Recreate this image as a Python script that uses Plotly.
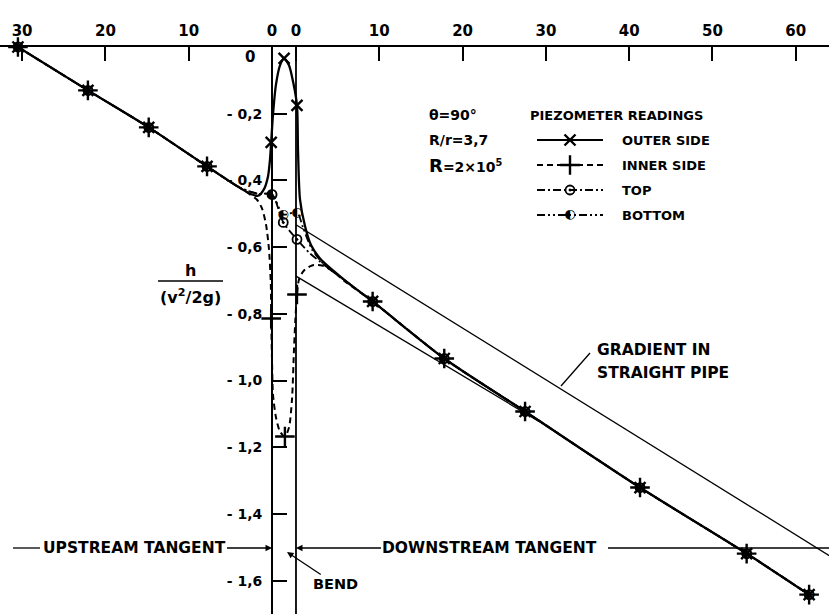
import plotly.graph_objects as go

FONT = "DejaVu Sans"
WEIGHT = "bold"

# ---------------- data ----------------
BEND_LENGTH = 2.88          # diameters between upstream-0 and downstream-0 sections

UPSTREAM_LU = [30.5, 22.1, 14.8, 7.8]
UPSTREAM_H = [0.000, -0.130, -0.241, -0.358]

DOWNSTREAM_LD = [9.2, 17.8, 27.5, 41.3, 54.1, 61.6]
DOWNSTREAM_H = [-0.763, -0.934, -1.093, -1.321, -1.519, -1.642]

# piezometer readings inside the bend (s = distance from bend entry, diameters)
OUTER_BEND_S = [-0.10, 1.45, 3.00]
OUTER_BEND_H = [-0.286, -0.034, -0.175]
INNER_BEND_S = [-0.10, 1.55, 3.00]
INNER_BEND_H = [-0.814, -1.168, -0.742]
TOP_BEND_S = [0.00, 1.35, 3.00]
TOP_BEND_H = [-0.442, -0.526, -0.577]
BOTTOM_BEND_S = [0.00, 1.35, 3.00]
BOTTOM_BEND_H = [-0.442, -0.502, -0.496]

# faired curves through the bend region (between last upstream and first downstream station)
OUTER_FAIR_S = [-4.44, -2.64, -1.68, -0.96, -0.48, -0.24, -0.10, 0.12, 0.48, 0.96, 1.45,
                2.04, 2.52, 3.00, 3.12, 3.36, 3.96, 4.68, 5.76, 7.32, 9.36]
OUTER_FAIR_H = [-0.413, -0.440, -0.446, -0.426, -0.388, -0.337, -0.286, -0.202, -0.112,
                -0.055, -0.034, -0.055, -0.103, -0.175, -0.307, -0.457, -0.537, -0.594,
                -0.634, -0.670, -0.712]
INNER_FAIR_S = [-4.44, -2.64, -1.80, -1.20, -0.72, -0.36, -0.14, -0.10, 0.00, 0.12, 0.48,
                0.96, 1.55, 2.04, 2.40, 2.64, 2.80, 3.00, 3.24, 3.84, 4.80, 6.00, 7.32, 8.76]
INNER_FAIR_H = [-0.413, -0.442, -0.458, -0.484, -0.532, -0.607, -0.712, -0.814, -0.937,
                -1.042, -1.111, -1.153, -1.168, -1.141, -1.057, -0.907, -0.820, -0.742,
                -0.697, -0.670, -0.655, -0.655, -0.673, -0.703]
TOP_FAIR_S = [-3.84, -1.68, 0.00, 1.35, 3.00, 4.56, 6.36, 8.76]
TOP_FAIR_H = [-0.422, -0.440, -0.442, -0.526, -0.577, -0.619, -0.655, -0.700]
BOTTOM_FAIR_S = [-3.84, -1.68, 0.00, 1.35, 3.00, 3.72, 4.80, 6.36, 8.76]
BOTTOM_FAIR_H = [-0.422, -0.440, -0.442, -0.502, -0.496, -0.541, -0.607, -0.655, -0.700]

# gradient lines for straight pipe
UPPER_GRADIENT_S = [2.88, 66.9]
UPPER_GRADIENT_H = [-0.533, -1.525]
LOWER_GRADIENT_S = [2.88, 32.0]
LOWER_GRADIENT_H = [-0.687, -1.122]

UP_TICKS = [30, 20, 10, 0]
DOWN_TICKS = [0, 10, 20, 30, 40, 50, 60]
Y_TICKS = [0, -0.2, -0.4, -0.6, -0.8, -1.0, -1.2, -1.4, -1.6]

# ---------------- layout geometry ----------------
W, H = 829, 614
TOP = 47
PX_PER_S = 8.33
PX_PER_H = 333.5
X0_PX = 272
X_RANGE = [-X0_PX / PX_PER_S, (W - X0_PX) / PX_PER_S]
Y_RANGE = [-(H - TOP) / PX_PER_H, 0.0]


def sx(px):
    return (px - X0_PX) / PX_PER_S


def sy(py):
    return -(py - TOP) / PX_PER_H


def fnt(size):
    return dict(family=FONT, size=size, color="black", weight=WEIGHT)


up_s = [-v for v in UPSTREAM_LU]
dn_s = [BEND_LENGTH + v for v in DOWNSTREAM_LD]

fig = go.Figure()

series = [
    (OUTER_FAIR_S, OUTER_FAIR_H, "solid", 2.3),
    (INNER_FAIR_S, INNER_FAIR_H, "6px,4px", 2.0),
    (TOP_FAIR_S, TOP_FAIR_H, "8px,3px,2px,3px", 1.8),
    (BOTTOM_FAIR_S, BOTTOM_FAIR_H, "8px,3px,2px,3px,2px,3px", 1.8),
]

for fs, fh, dash, lw in series:
    fig.add_trace(go.Scatter(
        x=up_s + fs + dn_s, y=UPSTREAM_H + fh + DOWNSTREAM_H,
        mode="lines", line=dict(color="black", width=lw, dash=dash, shape="spline", smoothing=0.7),
        hoverinfo="skip", showlegend=False))

# gradient lines
for gs, gh in [(UPPER_GRADIENT_S, UPPER_GRADIENT_H), (LOWER_GRADIENT_S, LOWER_GRADIENT_H)]:
    fig.add_trace(go.Scatter(x=gs, y=gh, mode="lines", line=dict(color="black", width=1.3),
                             hoverinfo="skip", showlegend=False))

MARK = {
    "outer": dict(symbol="x-thin-open", size=11, line=dict(color="black", width=2.4), color="black"),
    "inner": dict(symbol="cross-thin-open", size=14, line=dict(color="black", width=2.4), color="black"),
    "top": dict(symbol="circle-open-dot", size=9, line=dict(color="black", width=1.8), color="black"),
}

for key, bs, bh in [("outer", OUTER_BEND_S, OUTER_BEND_H), ("inner", INNER_BEND_S, INNER_BEND_H),
                    ("top", TOP_BEND_S, TOP_BEND_H)]:
    fig.add_trace(go.Scatter(x=up_s + bs + dn_s, y=UPSTREAM_H + bh + DOWNSTREAM_H,
                             mode="markers", marker=MARK[key], cliponaxis=False,
                             hoverinfo="skip", showlegend=False))
bx = up_s + BOTTOM_BEND_S + dn_s
fig.add_trace(go.Scatter(x=bx, y=UPSTREAM_H + BOTTOM_BEND_H + DOWNSTREAM_H,
                         mode="text", text=["◐"] * len(bx), textposition="middle center",
                         textfont=dict(family=FONT, size=13, color="black"), cliponaxis=False,
                         hoverinfo="skip", showlegend=False))

# ---------------- custom legend ----------------
LEGEND_ROWS = [("OUTER SIDE", "solid", "outer", 140), ("INNER SIDE", "6px,4px", "inner", 165),
               ("TOP", "8px,3px,2px,3px", "top", 190), ("BOTTOM", "8px,3px,2px,3px,2px,3px", "bottom", 215)]
annotations = []
for label, dash, key, py in LEGEND_ROWS:
    fig.add_trace(go.Scatter(x=[sx(537), sx(603)], y=[sy(py), sy(py)], mode="lines",
                             line=dict(color="black", width=1.9, dash=dash), cliponaxis=False,
                             hoverinfo="skip", showlegend=False))
    if key == "bottom":
        fig.add_trace(go.Scatter(x=[sx(570)], y=[sy(py)], mode="text", text=["◐"],
                                 textfont=dict(family=FONT, size=13, color="black"), cliponaxis=False,
                                 hoverinfo="skip", showlegend=False))
    else:
        fig.add_trace(go.Scatter(x=[sx(570)], y=[sy(py)], mode="markers", marker=MARK[key],
                                 cliponaxis=False, hoverinfo="skip", showlegend=False))
    annotations.append(dict(x=sx(620), y=sy(py), text=label, xanchor="left", yanchor="middle",
                            showarrow=False, font=fnt(13)))


def text(t, px, py, size=14, xanchor="center"):
    annotations.append(dict(x=sx(px), y=sy(py), text=t, xanchor=xanchor, yanchor="middle",
                            showarrow=False, font=fnt(size)))


text("PIEZOMETER READINGS", 528, 115, 13, "left")
text("θ=90°", 427, 115, 14, "left")
text("R/r=3,7", 427, 140, 14, "left")
text("<span style='font-size:18px'>R</span>=2×10<sup>5</sup>", 427, 165, 14, "left")
text("l<sub>u</sub>/d", 70, 16, 17)
text("l<sub>d</sub>/d", 667, 16, 17)
text("0", 250, 57, 15)
text("h", 190, 270, 16)
text("(v<sup>2</sup>/2g)", 190, 296, 16)
text("GRADIENT IN", 595, 350, 15.5, "left")
text("STRAIGHT PIPE", 595, 373, 15.5, "left")

arrow_common = dict(showarrow=True, arrowhead=2, arrowsize=1.0, arrowwidth=1.3,
                    arrowcolor="black", axref="pixel", ayref="pixel", standoff=0)
annotations.append(dict(x=0, y=sy(548), ax=134 - 272, ay=0, text="UPSTREAM TANGENT",
                        font=fnt(15.5), **arrow_common))
annotations.append(dict(x=BEND_LENGTH, y=sy(548), ax=490 - 296, ay=0, text="DOWNSTREAM TANGENT",
                        font=fnt(15.5), **arrow_common))
annotations.append(dict(x=sx(287), y=sy(552), ax=335 - 287, ay=584 - 552, text="BEND",
                        font=fnt(14.5), **arrow_common))

line_style = dict(color="black", width=1.3)
shapes = [
    dict(type="line", xref="x", yref="y", x0=BEND_LENGTH, x1=BEND_LENGTH, y0=Y_RANGE[1], y1=Y_RANGE[0],
         line=dict(color="black", width=1.8)),
    dict(type="line", xref="x", yref="y", x0=sx(13), x1=sx(40), y0=sy(548), y1=sy(548), line=line_style),
    dict(type="line", xref="x", yref="y", x0=sx(608), x1=sx(829), y0=sy(548), y1=sy(548), line=line_style),
    dict(type="line", xref="x", yref="y", x0=sx(158), x1=sx(223), y0=sy(281), y1=sy(281), line=line_style),
    dict(type="line", xref="x", yref="y", x0=sx(590), x1=sx(561), y0=sy(353), y1=sy(386), line=line_style),
]

y_label_vals = [v for v in Y_TICKS if v != 0]

fig.update_layout(
    width=W, height=H, margin=dict(l=0, r=0, t=TOP, b=0),
    paper_bgcolor="white", plot_bgcolor="white",
    font=dict(family=FONT, color="black"),
    showlegend=False,
    xaxis=dict(range=X_RANGE, side="top", showline=True, linecolor="black", linewidth=1.8,
               ticks="inside", ticklen=14, tickwidth=1.6, tickcolor="black",
               tickvals=[-t for t in UP_TICKS] + [BEND_LENGTH + t for t in DOWN_TICKS],
               ticktext=[str(t) for t in UP_TICKS] + [str(t) for t in DOWN_TICKS],
               tickfont=fnt(15), ticklabelstandoff=3,
               showgrid=False, zeroline=False),
    yaxis=dict(range=Y_RANGE, anchor="free", position=X0_PX / W, side="left",
               showline=True, linecolor="black", linewidth=1.8,
               ticks="inside", ticklen=14, tickwidth=1.6, tickcolor="black",
               tickvals=y_label_vals,
               ticktext=["- " + f"{abs(v):.1f}".replace(".", ",") for v in y_label_vals],
               tickfont=fnt(14), ticklabelstandoff=6,
               showgrid=False, zeroline=False),
    annotations=annotations,
    shapes=shapes,
)

fig.write_html("out.html")
